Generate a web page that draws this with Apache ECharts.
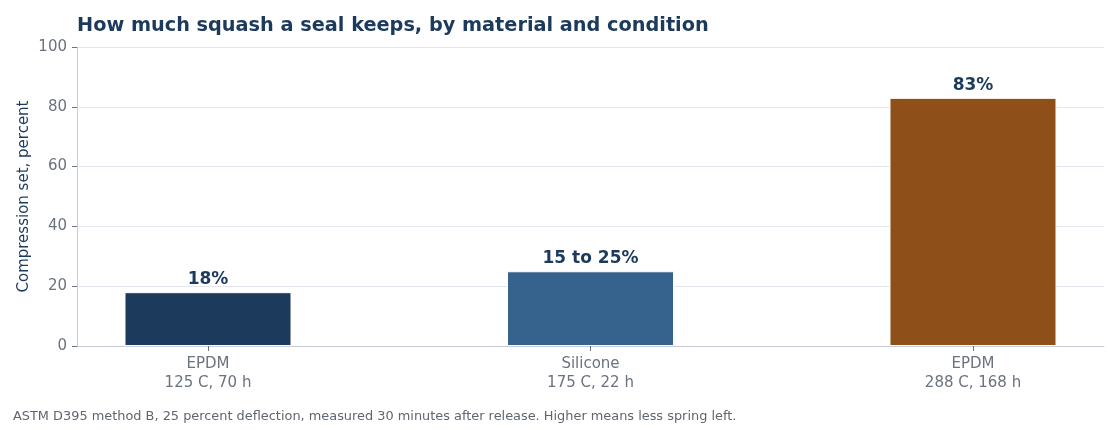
<!DOCTYPE html>
<html>
<head>
<meta charset="utf-8">
<script src="https://cdn.jsdelivr.net/npm/echarts@6/dist/echarts.min.js"></script>
<style>
  html, body { margin: 0; padding: 0; background: #fff; }
  #chart { width: 1120px; height: 430px; }
</style>
</head>
<body>
<div id="chart"></div>
<script>
// compression set results
const categories = ['EPDM\n125 C, 70 h', 'Silicone\n175 C, 22 h', 'EPDM\n288 C, 168 h'];
const values = [18, 25, 83];
const valueLabels = ['18%', '15 to 25%', '83%'];
const barColors = ['#1c3a5c', '#36628e', '#8f4f19'];

const font = 'DejaVu Sans';
const positions = categories.map((c, i) => i);

const chart = echarts.init(document.getElementById('chart'));

chart.setOption({
  animation: false,
  textStyle: { fontFamily: font },
  title: {
    text: 'How much squash a seal keeps, by material and condition',
    left: 72,
    top: 11,
    textStyle: { fontFamily: font, fontSize: 19.3, fontWeight: 'bold', color: '#1c3a5c' }
  },
  graphic: [{
    type: 'text',
    left: 13,
    top: 410,
    style: {
      text: 'ASTM D395 method B, 25 percent deflection, measured 30 minutes after release. Higher means less spring left.',
      font: '12.9px "DejaVu Sans"',
      fill: '#5f6670'
    }
  }],
  grid: { left: 77, right: 16, top: 47, bottom: 84 },
  xAxis: {
    type: 'value',
    min: -0.3425,
    max: 2.3425,
    splitLine: { show: false },
    axisLine: { show: true, onZero: false, lineStyle: { color: '#c8ccd8' } },
    axisTick: { show: true, customValues: positions, lineStyle: { color: '#6b7280' } },
    axisLabel: {
      customValues: positions,
      fontSize: 15,
      color: '#6b7280',
      lineHeight: 19,
      margin: 9,
      formatter: v => categories[Math.round(v)]
    }
  },
  yAxis: {
    type: 'value',
    min: 0,
    max: 100,
    interval: 20,
    name: 'Compression set, percent',
    nameLocation: 'middle',
    nameGap: 53,
    nameMoveOverlap: false,
    nameTextStyle: { fontSize: 15, color: '#1c3a5c', verticalAlign: 'middle' },
    axisLine: { show: true, onZero: false, lineStyle: { color: '#c8ccd8' } },
    axisTick: { show: true, lineStyle: { color: '#6b7280' } },
    axisLabel: { fontSize: 15, color: '#6b7280', margin: 10 },
    splitLine: { lineStyle: { color: '#e3e6ee' } }
  },
  series: [{
    type: 'bar',
    barWidth: 167,
    data: values.map((v, i) => ({
      value: [positions[i], v],
      itemStyle: { color: barColors[i], borderColor: '#fff', borderWidth: 1 },
      label: { formatter: valueLabels[i] }
    })),
    label: {
      show: true,
      position: 'top',
      distance: 4,
      fontSize: 17,
      fontWeight: 'bold',
      color: '#1c3a5c'
    }
  }]
});
</script>
</body>
</html>
